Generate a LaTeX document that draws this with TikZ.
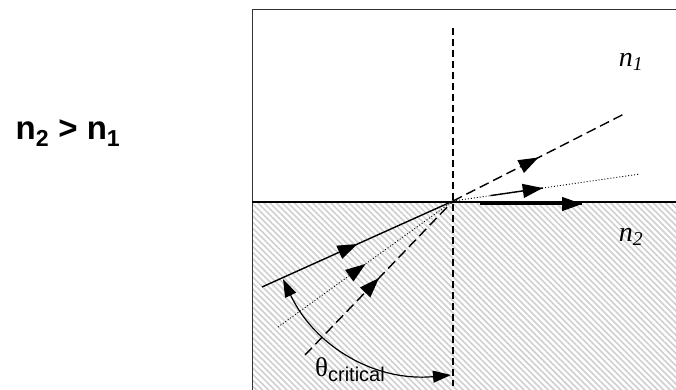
\documentclass[tikz,border=0pt]{standalone}
\usepackage{fontspec}
\setmainfont{Liberation Serif}
\setsansfont{Liberation Sans}
\usetikzlibrary{arrows.meta,calc,decorations.markings,patterns.meta}
\tikzset{
  % light rays
  ray/.style={line width=1.4pt},
  dashray/.style={ray, dash pattern=on 10pt off 5pt},
  dotray/.style={line width=0.9pt, dash pattern=on 1pt off 2pt},
  % the normal to the interface
  normalln/.style={line width=1.3pt, dash pattern=on 7pt off 4pt},
  % filled arrow head part way along a ray
  midarrow/.style={postaction={decorate}, decoration={markings,
    mark=at position #1 with {\arrow{Triangle[length=20pt,width=14pt]}}}},
  % the denser medium
  densefill/.style={pattern={Lines[angle=-45,distance=4.3pt,line width=1.6pt]},
    pattern color=gray!38},
  lbl/.style={inner sep=0pt},
}
\begin{document}
\begin{tikzpicture}[x=1pt, y=-1pt]
  \clip (0,0) rectangle (676,389);
  % --- the two media ---
  \fill[densefill] (252,202) rectangle (690,400);
  \draw[line width=1pt, black!80] (252,400) -- (252,9) -- (690,9);
  \draw[line width=2.4pt] (252,202) -- (690,202);
  % --- points ---
  \coordinate (O) at (453,201);
  \coordinate (ntop) at (453,28);
  \coordinate (nbot) at (453,386);
  \coordinate (inA) at (262,287);
  \coordinate (inB) at (278,327);
  \coordinate (inC) at (305,355);
  \coordinate (outA) at (624,114);
  \coordinate (outB) at (640,174);
  \coordinate (grazeS) at (480,204);
  \coordinate (grazeE) at (582,204);
  \coordinate (arcS) at (283,279);
  \coordinate (arcE) at (451,375);
  % normal
  \draw[normalln] (ntop) -- (nbot);
  % incident rays
  \draw[ray, midarrow=0.5] (inA) -- (O);
  \draw[dotray, midarrow=0.5] (inB) -- (O);
  \draw[dashray, midarrow=0.5] (inC) -- (O);
  % refracted rays
  \draw[dashray, midarrow=0.5] (O) -- (outA);
  \draw[dotray] (O) -- (outB);
  \draw[ray, midarrow=1] ($(O)!0.2!(outB)$) -- ($(O)!0.48!(outB)$);
  \draw[ray, midarrow=1] (grazeS) -- (grazeE);
  % critical angle
  \draw[line width=1.2pt, {Triangle[length=18pt,width=12pt]}-{Triangle[length=18pt,width=12pt]}]
    (arcS) to[bend right=35] (arcE);
  % labels
  \node[lbl] (ratio) at (68,133)
    {\sffamily\bfseries\fontsize{33}{36}\selectfont n\textsubscript{2} > n\textsubscript{1}};
  \node[lbl] (none) at (631,62) {\fontsize{28}{30}\selectfont\textit{n\textsubscript{1}}};
  \node[lbl] (ntwo) at (631,237) {\fontsize{28}{30}\selectfont\textit{n\textsubscript{2}}};
  \node[lbl] (theta) at (350,370)
    {\fontsize{27}{30}\selectfont θ\raisebox{-5pt}{\sffamily\fontsize{20}{22}\selectfont critical}};
\end{tikzpicture}
\end{document}
